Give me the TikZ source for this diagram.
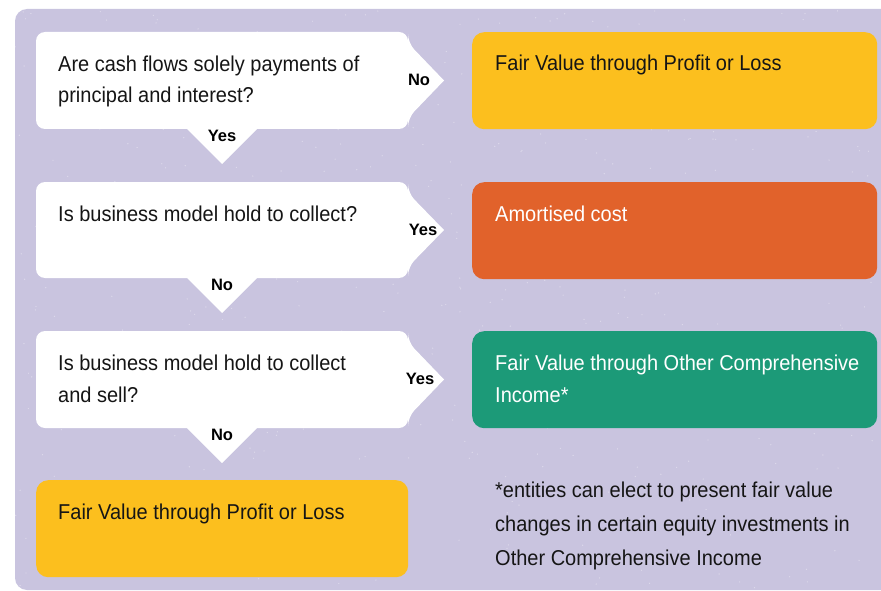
\documentclass[tikz,border=0pt]{standalone}
\usepackage{fontspec}
\setmainfont[FakeStretch=0.93]{Liberation Sans}
\newfontfamily\labfont{Liberation Sans}
\definecolor{lav}{HTML}{C9C4DF}
\definecolor{yel}{HTML}{FCBF1E}
\definecolor{ora}{HTML}{E1622B}
\definecolor{grn}{HTML}{1C9A78}
\definecolor{ink}{HTML}{151515}
\tikzset{
  qtext/.style={anchor=base west, inner sep=0, align=left, text=ink,
                font=\fontsize{21.5}{32}\selectfont},
  lab/.style={inner sep=0, text=black, font=\labfont\bfseries\fontsize{16.5}{18}\selectfont},
  resbox/.style={anchor=north west, rounded corners=12, minimum width=405,
                 minimum height=97, inner sep=0},
  decision/.style={fill=white},
}
\newcommand{\decshape}[2]{% #1 top, #2 bottom
  \fill[decision] (150,#1) [rounded corners=9] -- (408,#1) -- (408,#1+11)
    [sharp corners] -- (444,{(#1+#2)/2}) [rounded corners=9] -- (408,#2-11) -- (408,#2)
    [sharp corners] -- (257,#2) -- (222,#2+35) -- (187,#2)
    [rounded corners=9] -- (36,#2) -- (36,#1) -- cycle;}
\begin{document}
\begin{tikzpicture}[x=1pt,y=-1pt]
\useasboundingbox (0,0) rectangle (881,591);
\clip (0,0) rectangle (881,591);
% background
\fill[lav, rounded corners=12] (15,9) rectangle (905,590);
\pgfmathsetseed{11}
\foreach \i in {1,...,500}{
  \pgfmathsetmacro\rx{15+rnd*866}
  \pgfmathsetmacro\ry{10+rnd*578}
  \fill[white, opacity=0.35] (\rx,\ry) circle (0.7);
}
% decision shapes
\decshape{32}{129}
\decshape{182}{278}
\decshape{331}{428}
% result boxes
\node[resbox, fill=yel] (r1) at (472,32) {};
\node[resbox, fill=ora] (r2) at (472,182) {};
\node[resbox, fill=grn] (r3) at (472,331) {};
\node[resbox, fill=yel, minimum width=372] (r4) at (36,480) {};
% texts (base anchor = baseline of the last line)
\node[qtext] (q1) at (58,103) {Are cash flows solely payments of\\principal and interest?};
\node[qtext] (q2) at (58,221) {Is business model hold to collect?};
\node[qtext] (q3) at (58,402) {Is business model hold to collect\\and sell?};
\node[qtext] (t4) at (58,519) {Fair Value through Profit or Loss};
\node[qtext] (t1) at (495,71) {Fair Value through Profit or Loss};
\node[qtext, text=white] (t2) at (495,221) {Amortised cost};
\node[qtext, text=white] (t3) at (495,402) {Fair Value through Other Comprehensive\\Income*};
\node[qtext, font=\fontsize{21.5}{34}\selectfont] (fn) at (495,565)
  {*entities can elect to present fair value\\changes in certain equity investments in\\Other Comprehensive Income};
% labels
\node[lab] (l1) at (419,80) {No};
\node[lab] (l2) at (222,136) {Yes};
\node[lab] (l3) at (423,230) {Yes};
\node[lab] (l4) at (222,285) {No};
\node[lab] (l5) at (420,379) {Yes};
\node[lab] (l6) at (222,435) {No};
\end{tikzpicture}
\end{document}
